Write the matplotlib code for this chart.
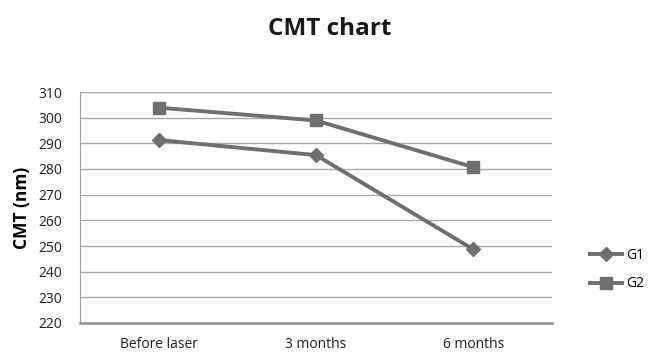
import matplotlib
matplotlib.use("Agg")
import matplotlib.pyplot as plt

categories = ["Before laser", "3 months", "6 months"]
g1 = [291.3, 285.4, 248.7]
g2 = [303.9, 298.9, 280.7]
yticks = list(range(220, 311, 10))

plt.rcParams['font.family'] = ['Open Sans', 'DejaVu Sans']

fig = plt.figure(figsize=(6.6, 3.54), dpi=100)
ax = fig.add_axes([80/660, 1 - 323/354, (552-80)/660, (323-92)/354])

x = list(range(len(categories)))
col = '#6f6f6f'
ax.plot(x, g1, color=col, lw=2.8, marker='D', ms=7, label='G1')
ax.plot(x, g2, color=col, lw=2.8, marker='s', ms=8, label='G2')

ax.set_xlim(-0.5, 2.5)
ax.set_ylim(220, 310)
ax.set_yticks(yticks)
ax.set_xticks(x)
ax.set_xticklabels(categories)
ax.grid(axis='y', color='#a8a8a8', lw=1)
ax.set_axisbelow(True)
for s in ['top', 'right']:
    ax.spines[s].set_visible(False)
ax.spines['left'].set_color('#a0a0a0')
ax.spines['bottom'].set_color('#909090')
ax.spines['bottom'].set_linewidth(1.8)
ax.tick_params(length=0, labelsize=10, colors='#222222', pad=13)
ax.tick_params(axis='x', pad=10)
ax.set_ylabel('CMT (nm)', fontsize=12.5, fontweight='bold', labelpad=5)

fig.text(0.5, 1 - 29/354, 'CMT chart', ha='center', va='center', fontsize=17.5, fontweight='bold',
         color='#1a1a1a')

ax.legend(loc='center left', bbox_to_anchor=(1.055, 0.23), frameon=False, fontsize=10,
          handlelength=2.3, handletextpad=0.3, labelspacing=0.95)

fig.savefig('out.png', dpi=100)
